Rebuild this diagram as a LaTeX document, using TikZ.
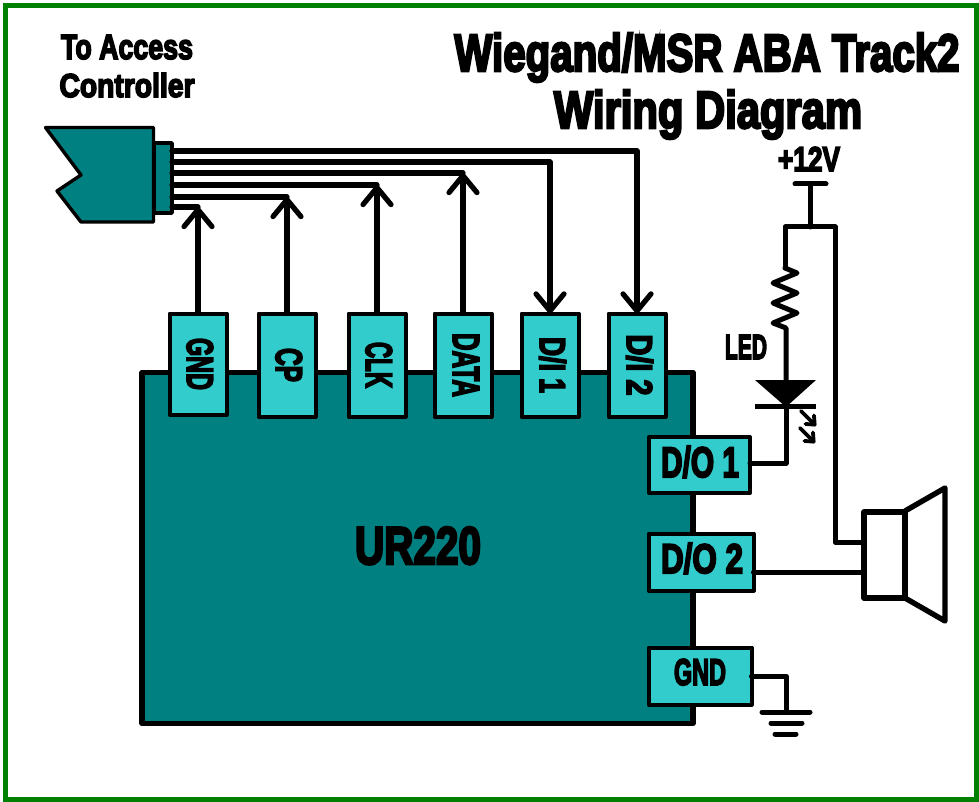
\documentclass[tikz,border=0pt]{standalone}
\usepackage{fontspec}
\usepackage{graphicx}
\usetikzlibrary{arrows.meta}
\newfontfamily\imp[UprightFont=* Bold,FakeBold=5]{Liberation Sans}
\newcommand{\imptxt}[3]{\resizebox{#1pt}{#2pt}{\imp #3}}
\definecolor{tealbody}{RGB}{0,128,128}
\definecolor{cyanpin}{RGB}{51,204,204}
\definecolor{frame}{RGB}{0,128,0}
\tikzset{
  lab/.style={inner sep=0pt,outer sep=0pt,anchor=base,text=black},
  pin/.style={draw=black,fill=cyanpin,line width=4pt,inner sep=0pt,outer sep=0pt,rectangle,line join=round},
  body/.style={draw=black,fill=tealbody,line join=round},
  wire/.style={draw=black,line width=5.2pt,line join=round,line cap=round},
  thin wire/.style={draw=black,line width=5pt,line join=round,line cap=round},
  barb/.tip={Straight Barb[length=17pt,width=28pt,line width=5.2pt,round]},
  tiny tip/.tip={Straight Barb[length=7pt,width=12pt,line width=3.8pt,round]},
}
\begin{document}
\begin{tikzpicture}[x=1pt,y=-1pt]
\useasboundingbox (0,0) rectangle (979,802);
\draw[frame,line width=5pt] (5.5,5.5) rectangle (976.5,799.5);
% titles
\node[lab] (t1) at (707,71) {\imptxt{505}{38}{Wiegand/MSR ABA Track2}};
\node[lab] (t2) at (708,128) {\imptxt{308}{38}{Wiring Diagram}};
\node[lab] (t3) at (127,59) {\imptxt{132}{24}{To Access}};
\node[lab] (t4) at (127,97) {\imptxt{135}{24}{Controller}};
% connector
\draw[body,line width=3.4pt] (45.5,127.5) -- (153.5,127.5) -- (153.5,222) -- (81,222) -- (57,191) -- (81,175) -- cycle;
\node[body,line width=3.4pt,rectangle,inner sep=0pt,outer sep=0pt,minimum width=18pt,minimum height=70pt] (plug) at (163,178) {};
\coordinate (w1) at (172,151);
\coordinate (w2) at (172,162);
\coordinate (w3) at (172,173);
\coordinate (w4) at (172,185);
\coordinate (w5) at (172,197);
\coordinate (w6) at (172,207);
% main box
\node[body,line width=5.5pt,rectangle,inner sep=0pt,outer sep=0pt,minimum width=551pt,minimum height=351pt] (ur) at (417.5,548) {};
\node[lab] (urt) at (418,564) {\imptxt{126}{37}{UR220}};
% top pins
\node[pin,minimum width=57pt,minimum height=101pt] (pgnd) at (198,364) {};
\node[pin,minimum width=57pt,minimum height=103pt] (pcp) at (287,365) {};
\node[pin,minimum width=57pt,minimum height=103pt] (pclk) at (377,365) {};
\node[pin,minimum width=57pt,minimum height=103pt] (pdata) at (463,365) {};
\node[pin,minimum width=57pt,minimum height=103pt] (pd1) at (550,365) {};
\node[pin,minimum width=57pt,minimum height=103pt] (pd2) at (637,365) {};
\node[lab,rotate=-90] (lgnd) at (187,364) {\imptxt{52}{26}{GND}};
\node[lab,rotate=-90] (lcp) at (276,365) {\imptxt{34}{26}{CP}};
\node[lab,rotate=-90] (lclk) at (366,365) {\imptxt{46}{26}{CLK}};
\node[lab,rotate=-90] (ldata) at (453,365) {\imptxt{64}{26}{DATA}};
\node[lab,rotate=-90] (ld1) at (540,365) {\imptxt{56}{26}{D/I 1}};
\node[lab,rotate=-90] (ld2) at (627,365) {\imptxt{61}{26}{D/I 2}};
% wires to pins
\draw[wire] (w6) -- (w6 -| pgnd.north);
\draw[wire,-{barb}] (pgnd.north) -- (pgnd.north |- w6);
\draw[wire] (w5) -- (w5 -| pcp.north);
\draw[wire,-{barb}] (pcp.north) -- (pcp.north |- w5);
\draw[wire] (w4) -- (w4 -| pclk.north);
\draw[wire,-{barb}] (pclk.north) -- (pclk.north |- w4);
\draw[wire] (w3) -- (w3 -| pdata.north);
\draw[wire,-{barb}] (pdata.north) -- (pdata.north |- w3);
\draw[wire,-{barb}] (w2) -| (pd1.north);
\draw[wire,-{barb}] (w1) -| (pd2.north);
% right pins
\node[pin,minimum width=101pt,minimum height=56pt] (do1) at (699.5,465) {};
\node[pin,minimum width=105pt,minimum height=57pt] (do2) at (701,562) {};
\node[pin,minimum width=103pt,minimum height=57pt] (rgnd) at (700,676) {};
\node[lab] (ldo1) at (700,477) {\imptxt{78}{31}{D/O 1}};
\node[lab] (ldo2) at (702,573) {\imptxt{82}{30}{D/O 2}};
\node[lab] (lrg) at (700,685) {\imptxt{52}{26}{GND}};
% +12V
\node[lab] (vt) at (809,171) {\imptxt{62}{24}{+12V}};
\coordinate (vbar) at (810,184);
\coordinate (jn) at (810,227);
\coordinate (rtop) at (785,227);
\coordinate (spk) at (835,227);
\draw[thin wire] (795,184) -- (826,184);
\draw[thin wire] (vbar) -- (jn);
\draw[thin wire] (785,268) -- (rtop) -- (spk) -- (835,542) -- (863,542);
% resistor
\draw[thin wire] (785,268) -- (797,273) -- (773,283) -- (797,293) -- (773,303) -- (797,313) -- (773,323) -- (786,328) -- (786,405);
\node[lab] (lled) at (746,359) {\imptxt{42}{24}{LED}};
% LED
\fill[black] (755,380) -- (816,380) -- (786,407) -- cycle;
\draw[thin wire,line cap=butt] (755,406) -- (816,406);
\coordinate (ledb) at (786,463);
\draw[thin wire] (786,405) -- (ledb) -- (ledb -| do1.east);
\draw[line width=3.8pt,line cap=round,-{tiny tip}] (801,411) -- (816,426);
\draw[line width=3.8pt,line cap=round,-{tiny tip}] (800,428) -- (815,443);
% speaker
\draw[thin wire] (do2.east |- 0,572) -- (863,572);
\draw[draw=black,line width=5.4pt,line join=round] (864,512) rectangle (905,598);
\draw[draw=black,line width=5.4pt,line join=round] (905,511) -- (945,488) -- (945,621) -- (905,598);
% ground
\coordinate (g0) at (786,712);
\draw[thin wire] (rgnd.east) -- (786,676) -- (g0);
\draw[thin wire] (762,712) -- (810,712);
\draw[thin wire] (771,723) -- (802,723);
\draw[thin wire] (775,734) -- (796,734);
\end{tikzpicture}
\end{document}
